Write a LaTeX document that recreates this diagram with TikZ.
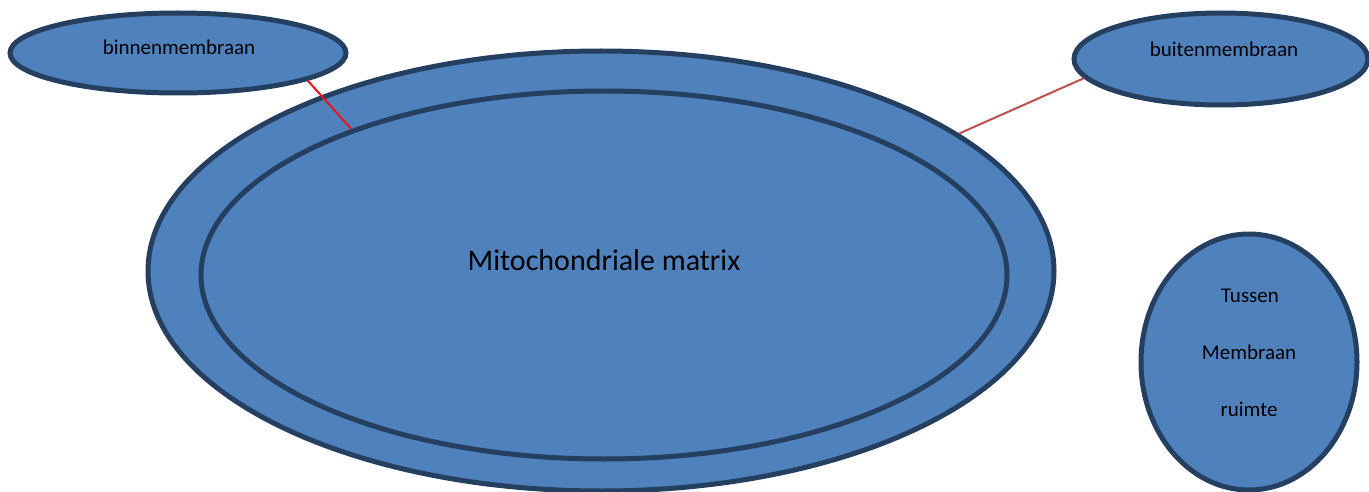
\documentclass[tikz,border=0pt]{standalone}
\usepackage{fontspec}
\setmainfont{Carlito}
\usetikzlibrary{shapes.geometric}
\definecolor{shapefill}{HTML}{4F81BD}
\definecolor{shapeline}{HTML}{243F60}
\definecolor{linkred}{HTML}{E8141B}
\definecolor{linkdark}{HTML}{C0504D}
\tikzset{
  blob/.style={ellipse, draw=shapeline, fill=shapefill, line width=5pt, inner sep=0pt},
  smalltext/.style={font=\fontsize{21}{25}\selectfont, text=black, anchor=base, inner sep=0pt},
  bigtext/.style={font=\fontsize{30}{36}\selectfont, text=black, anchor=base, inner sep=0pt},
  link/.style={line width=2pt}
}
\begin{document}
\begin{tikzpicture}[x=1pt,y=-1pt]
\useasboundingbox (0,0) rectangle (1369,492);
\node[blob, minimum width=906pt, minimum height=440pt] (outer) at (601,271) {};
\node[blob, minimum width=806pt, minimum height=368pt] (inner) at (604,275) {};
\node[blob, minimum width=336pt, minimum height=80pt] (bin) at (178,53) {};
\node[blob, minimum width=294pt, minimum height=92pt] (buit) at (1221,59) {};
\node[blob, minimum width=216pt, minimum height=256pt] (tus) at (1249,362) {};
\node[bigtext] (matrixlabel) at (604,270) {Mitochondriale matrix};
\node[smalltext] (binlabel) at (179,55) {binnenmembraan};
\node[smalltext] (buitlabel) at (1224,57) {buitenmembraan};
\node[smalltext] (tus1) at (1250,302) {Tussen};
\node[smalltext] (tus2) at (1249,359) {Membraan};
\node[smalltext] (tus3) at (1249,416) {ruimte};
\draw[link, draw=linkred] (bin.-12.3) -- (inner.150);
\draw[link, draw=linkdark] (buit.188.6) -- (outer.21.3);
\end{tikzpicture}
\end{document}
